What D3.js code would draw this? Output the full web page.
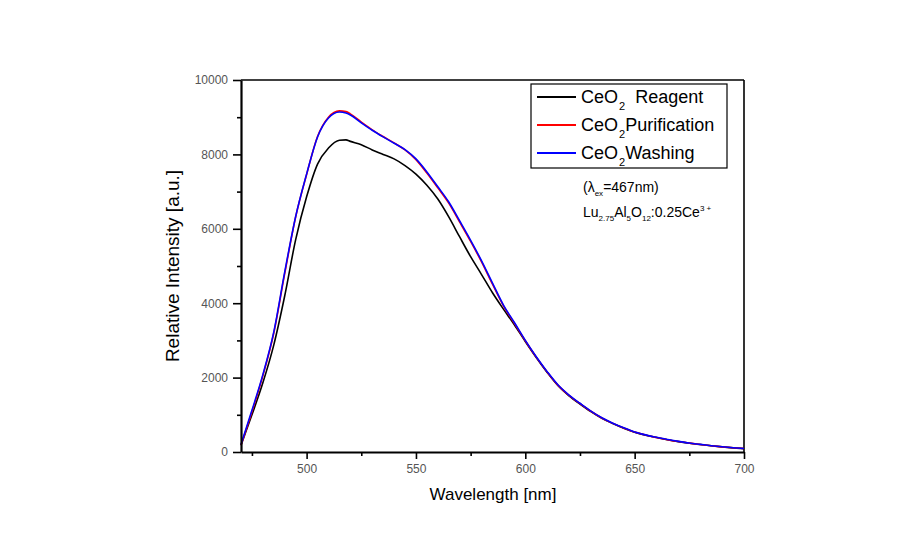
<!DOCTYPE html>
<html><head><meta charset="utf-8">
<script src="https://cdn.jsdelivr.net/npm/d3@7"></script>
<style>
html,body{margin:0;padding:0;background:#fff;}
svg{display:block;font-family:"Liberation Sans",Arial,sans-serif;}
</style></head>
<body>
<svg id="chart" width="924" height="539"></svg>
<script>
// ---- data ----
const wavelengths = [470,475,480,485,490,495,500,505,510,515,518,520,525,530,535,540,545,550,555,560,565,570,575,580,585,590,595,600,605,610,615,620,625,630,635,640,645,650,655,660,665,670,675,680,685,690,695,700];
const reagent     = [180,1000,1860,2880,4200,5710,6860,7740,8170,8380,8390,8350,8260,8120,8000,7880,7700,7470,7170,6800,6320,5780,5250,4770,4280,3840,3420,2970,2540,2140,1780,1510,1290,1085,905,765,640,532,452,388,328,278,236,200,167,137,112,90];
const purification= [180,1080,2050,3200,4800,6320,7460,8480,9000,9170,9150,9090,8870,8660,8480,8310,8120,7860,7500,7100,6690,6180,5660,5110,4510,3930,3460,2990,2550,2150,1790,1520,1300,1095,915,770,645,535,455,390,330,280,238,200,168,138,113,92];
const washing     = [200,1120,2080,3230,4840,6330,7470,8470,8980,9140,9110,9060,8850,8650,8470,8300,8130,7880,7530,7130,6720,6210,5690,5140,4540,3950,3480,3000,2560,2160,1800,1530,1310,1100,920,775,650,540,460,395,335,285,240,205,170,140,115,95];
const seriesNames = ["Reagent","Purification","Washing"];
const seriesColors = ["#000000","#ff0000","#0000ff"];
const xMajorTicks = [500,550,600,650,700];
const xMinorTicks = [475,525,575,625,675];
const yMajorTicks = [0,2000,4000,6000,8000,10000];
const yMinorTicks = [1000,3000,5000,7000,9000];

const svg = d3.select("#chart");
const x = d3.scaleLinear().domain([470,700]).range([241,744]);
const y = d3.scaleLinear().domain([0,10000]).range([452,80]);

// frame top & right
svg.append("line").attr("x1",241).attr("x2",744).attr("y1",y(10000)).attr("y2",y(10000)).attr("stroke","#000").attr("stroke-width",1.6);
svg.append("line").attr("x1",744).attr("x2",744).attr("y1",y(10000)).attr("y2",y(0)).attr("stroke","#000").attr("stroke-width",1.6);

// curves
const allSeries = [reagent, purification, washing];
const line = d3.line().x((d,i)=>x(wavelengths[i])).y(d=>y(d)).curve(d3.curveMonotoneX);
allSeries.forEach((s,k)=>{
  svg.append("path").datum(s).attr("d",line).attr("fill","none")
    .attr("stroke",seriesColors[k]).attr("stroke-width",1.6).attr("stroke-linejoin","round");
});

// x axis
svg.append("g").attr("transform",`translate(0,${y(0)})`)
  .call(d3.axisBottom(x).tickValues(xMajorTicks).tickSize(7).tickSizeOuter(0).tickPadding(5).tickFormat(d3.format("d")));
svg.append("g").attr("transform",`translate(0,${y(0)})`)
  .call(d3.axisBottom(x).tickValues(xMinorTicks).tickSize(4).tickSizeOuter(0).tickFormat(""))
  .select(".domain").remove();
// y axis
svg.append("g").attr("transform",`translate(${x(470)},0)`)
  .call(d3.axisLeft(y).tickValues(yMajorTicks).tickSize(8).tickSizeOuter(0).tickPadding(5).tickFormat(d3.format("d")));
svg.append("g").attr("transform",`translate(${x(470)},0)`)
  .call(d3.axisLeft(y).tickValues(yMinorTicks).tickSize(4).tickSizeOuter(0).tickFormat(""))
  .select(".domain").remove();
svg.selectAll(".domain").attr("stroke","#000").attr("stroke-width",2.2);
svg.selectAll(".tick line").attr("stroke","#000").attr("stroke-width",1.6);
svg.selectAll(".tick text").attr("font-family","Liberation Sans, Arial, sans-serif").attr("font-size",12).attr("fill","#555");

// axis titles
svg.append("text").attr("x",493).attr("y",500).attr("text-anchor","middle")
  .attr("font-size",17).attr("fill","#000").text("Wavelength [nm]");
svg.append("text").attr("transform","translate(179,266) rotate(-90)").attr("text-anchor","middle")
  .attr("font-size",19).attr("fill","#000").text("Relative Intensity [a.u.]");

// legend
const lg = svg.append("g");
lg.append("rect").attr("x",531).attr("y",84).attr("width",196).attr("height",84)
  .attr("fill","#fff").attr("stroke","#000").attr("stroke-width",1.2);
const rowY = [97,125,153];
seriesNames.forEach((n,i)=>{
  lg.append("line").attr("x1",537).attr("x2",576).attr("y1",rowY[i]).attr("y2",rowY[i])
    .attr("stroke",seriesColors[i]).attr("stroke-width",1.8);
  const t = lg.append("text").attr("x",581).attr("y",rowY[i]+6).attr("font-size",18).attr("fill","#000");
  t.append("tspan").text("CeO");
  t.append("tspan").attr("font-size",11).attr("dx",1).attr("dy",7).text("2");
  t.append("tspan").attr("dy",-7).text(i===0 ? "  "+n : n).attr("xml:space","preserve");
});

// annotation
const a1 = svg.append("text").attr("x",583).attr("y",192).attr("font-size",14).attr("fill","#000");
a1.append("tspan").text("(λ");
a1.append("tspan").attr("font-size",8).attr("dy",4).text("ex");
a1.append("tspan").attr("dy",-4).text("=467nm)");
const a2 = svg.append("text").attr("x",583).attr("y",217).attr("font-size",14).attr("fill","#000");
a2.append("tspan").text("Lu");
a2.append("tspan").attr("font-size",8).attr("dy",4).text("2.75");
a2.append("tspan").attr("dy",-4).text("Al");
a2.append("tspan").attr("font-size",8).attr("dy",4).text("5");
a2.append("tspan").attr("dy",-4).text("O");
a2.append("tspan").attr("font-size",8).attr("dy",4).text("12");
a2.append("tspan").attr("dy",-4).text(":0.25Ce");
a2.append("tspan").attr("font-size",8).attr("dy",-6).text("3 +");
</script>
</body></html>
